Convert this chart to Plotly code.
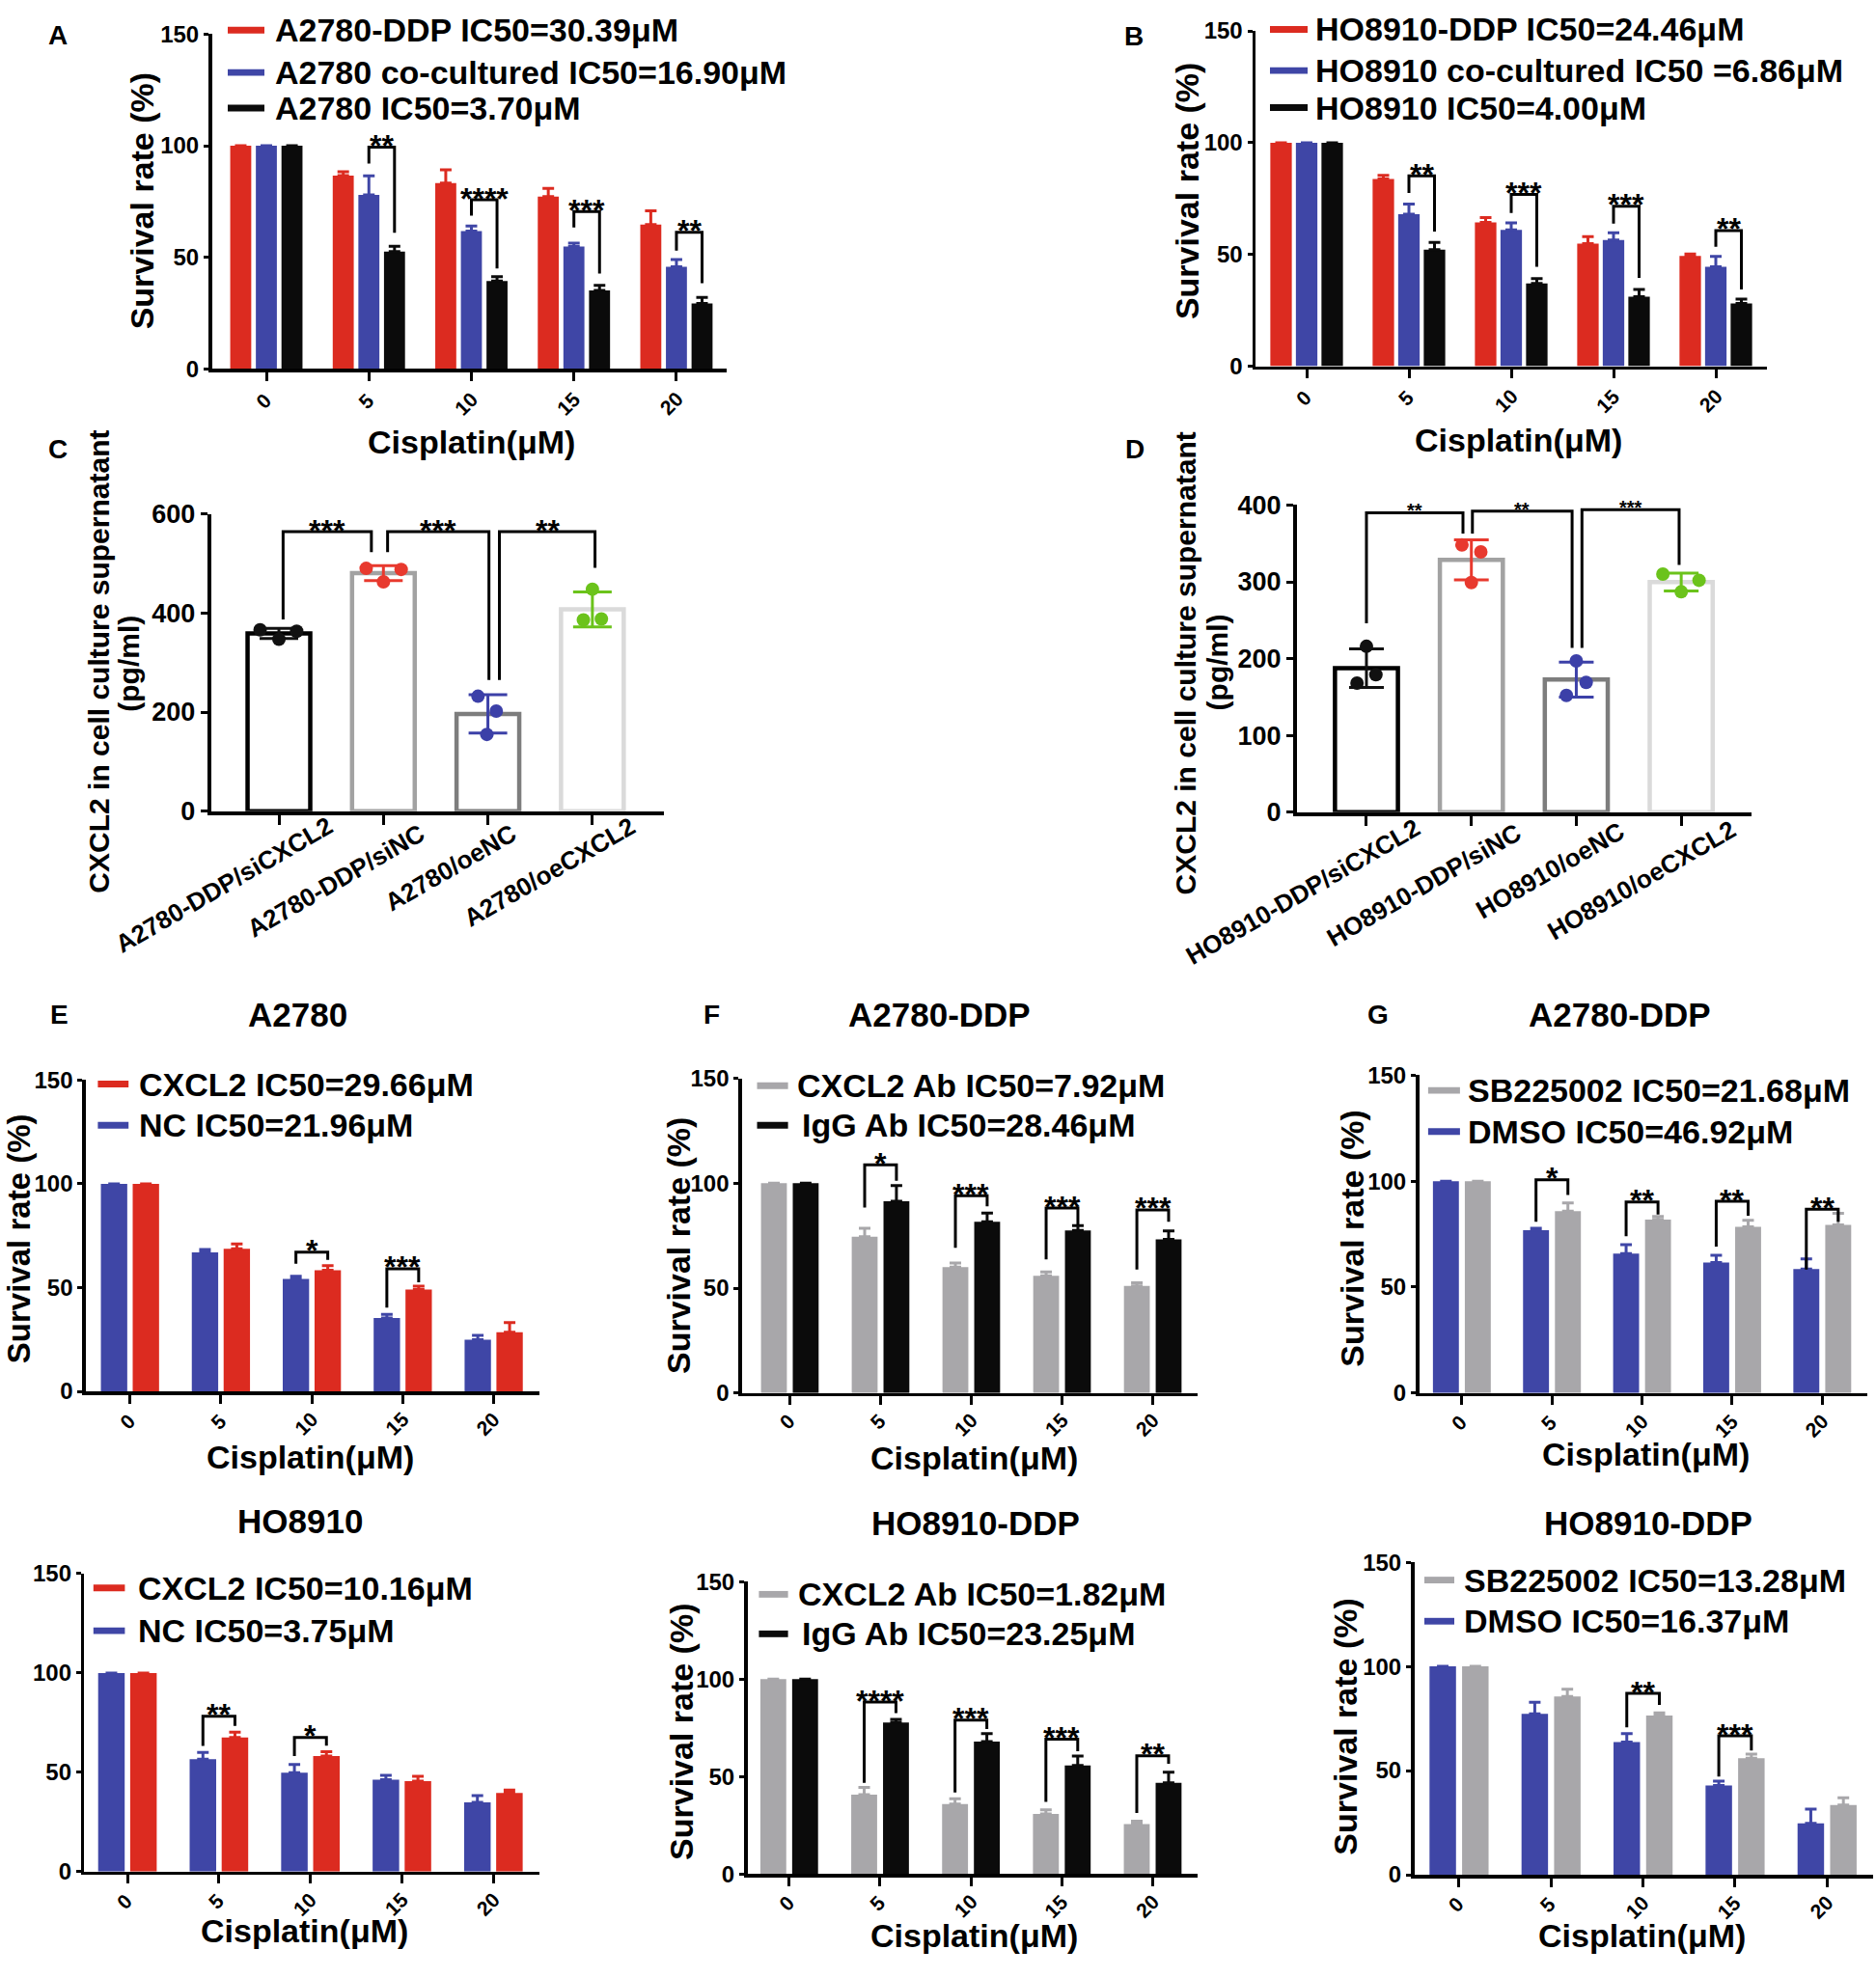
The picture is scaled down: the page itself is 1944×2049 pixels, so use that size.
import numpy as np
import plotly.graph_objects as go

W, H = 1944, 2049
FONT = "Liberation Sans, Arial, Helvetica, sans-serif"

# ======================= DATA =======================
doses = ["0", "5", "10", "15", "20"]

# ---- Panel A : A2780 ----
a_ddp = [100, 86.6, 83.2, 77.2, 64.7]
a_ddp_err = [0, 1.7, 6.0, 3.7, 6.1]
a_co = [100, 78.0, 61.7, 54.8, 45.7]
a_co_err = [0, 8.5, 2.3, 1.5, 3.3]
a_par = [100, 52.5, 39.4, 35.1, 29.3]
a_par_err = [0, 2.4, 1.9, 2.3, 2.7]
a_names = ["A2780-DDP IC50=30.39μM", "A2780 co-cultured IC50=16.90μM", "A2780 IC50=3.70μM"]
a_sig_dose = [1, 2, 3, 4]
a_sig = ["**", "****", "***", "**"]
a_sig_top = [99.4, 75.8, 70.5, 61.2]
a_sig_left = [92.0, 68.7, 63.4, 53.0]
a_sig_right = [61.0, 45.0, 42.7, 38.4]

# ---- Panel B : HO8910 ----
b_ddp = [100, 83.8, 64.4, 54.8, 49.4]
b_ddp_err = [0, 1.6, 2.1, 3.2, 0.8]
b_co = [100, 68.0, 61.0, 56.5, 44.5]
b_co_err = [0, 4.6, 3.1, 3.2, 4.6]
b_par = [100, 52.2, 37.0, 31.1, 28.1]
b_par_err = [0, 3.2, 2.2, 3.3, 1.9]
b_names = ["HO8910-DDP IC50=24.46μM", "HO8910 co-cultured IC50 =6.86μM", "HO8910 IC50=4.00μM"]
b_sig_dose = [1, 2, 3, 4]
b_sig = ["**", "***", "***", "**"]
b_sig_top = [85.2, 76.9, 71.6, 60.7]
b_sig_left = [77.5, 68.6, 63.8, 53.4]
b_sig_right = [60.3, 44.5, 39.5, 34.4]

# ---- Panel C : CXCL2 ELISA (A2780) ----
c_groups = ["A2780-DDP/siCXCL2", "A2780-DDP/siNC", "A2780/oeNC", "A2780/oeCXCL2"]
c_siCXCL2 = [366, 347, 363]
c_siNC = [490, 463, 488]
c_oeNC = [232, 202, 155]
c_oeCXCL2 = [448, 386, 388]
c_sig = ["***", "***", "**"]
c_sig_top = [564, 564, 564]
c_sig_left = [387, 523, 265]
c_sig_right = [523, 265, 491]

# ---- Panel D : CXCL2 ELISA (HO8910) ----
d_groups = ["HO8910-DDP/siCXCL2", "HO8910-DDP/siNC", "HO8910/oeNC", "HO8910/oeCXCL2"]
d_siCXCL2 = [216, 179, 168]
d_siNC = [348, 339, 299]
d_oeNC = [197, 169, 152]
d_oeCXCL2 = [310, 302, 287]
d_sig = ["**", "**", "***"]
d_sig_top = [390, 392, 394]
d_sig_left = [246, 363, 214]
d_sig_right = [363, 214, 322]

# ---- Panel E (top) : A2780 ----
e1_nc = [100, 67.0, 54.2, 35.4, 24.9]
e1_nc_err = [0, 1.3, 1.2, 1.7, 2.1]
e1_cxcl2 = [100, 68.7, 58.4, 49.1, 28.5]
e1_cxcl2_err = [0, 2.3, 2.2, 1.6, 4.6]
e1_names = ["CXCL2 IC50=29.66μM", "NC IC50=21.96μM"]
e1_sig_dose = [2, 3]
e1_sig = ["*", "***"]
e1_sig_top = [67.1, 59.1]
e1_sig_left = [61.5, 40.4]
e1_sig_right = [63.3, 52.6]

# ---- Panel E (bottom) : HO8910 ----
e2_nc = [100, 56.6, 49.8, 46.3, 34.8]
e2_nc_err = [0, 3.4, 4.1, 2.2, 3.5]
e2_cxcl2 = [100, 67.5, 58.2, 45.5, 39.6]
e2_cxcl2_err = [0, 2.7, 2.1, 2.4, 1.4]
e2_names = ["CXCL2 IC50=10.16μM", "NC IC50=3.75μM"]
e2_sig_dose = [1, 2]
e2_sig = ["**", "*"]
e2_sig_top = [78.2, 67.5]
e2_sig_left = [63.3, 58.2]
e2_sig_right = [73.4, 63.4]

# ---- Panel F (top) : A2780-DDP ----
f1_ab = [100, 74.5, 60.0, 55.9, 51.1]
f1_ab_err = [0, 4.0, 2.0, 1.8, 1.5]
f1_igg = [100, 91.4, 81.6, 77.5, 73.3]
f1_igg_err = [0, 7.5, 4.2, 2.3, 4.0]
f1_names = ["CXCL2 Ab IC50=7.92μM", "IgG Ab IC50=28.46μM"]
f1_sig_dose = [1, 2, 3, 4]
f1_sig = ["*", "***", "***", "***"]
f1_sig_top = [108.8, 94.1, 88.2, 87.3]
f1_sig_left = [88.4, 69.2, 63.7, 58.9]
f1_sig_right = [101.2, 89.0, 80.0, 81.6]

# ---- Panel F (bottom) : HO8910-DDP ----
f2_ab = [100, 40.8, 35.9, 30.9, 25.7]
f2_ab_err = [0, 3.6, 2.8, 2.1, 1.4]
f2_igg = [100, 77.7, 67.9, 55.7, 46.8]
f2_igg_err = [0, 1.6, 4.1, 4.8, 5.4]
f2_names = ["CXCL2 Ab IC50=1.82μM", "IgG Ab IC50=23.25μM"]
f2_sig_dose = [1, 2, 3, 4]
f2_sig = ["****", "***", "***", "**"]
f2_sig_top = [88.2, 79.0, 69.2, 60.6]
f2_sig_left = [46.8, 41.9, 37.0, 31.4]
f2_sig_right = [82.6, 74.4, 63.0, 56.6]

# ---- Panel G (top) : A2780-DDP ----
g1_dmso = [100, 76.9, 65.8, 61.6, 58.5]
g1_dmso_err = [0, 0.9, 4.2, 3.4, 4.8]
g1_sb = [100, 85.8, 81.9, 78.5, 79.3]
g1_sb_err = [0, 3.9, 1.4, 3.0, 5.5]
g1_names = ["SB225002 IC50=21.68μM", "DMSO IC50=46.92μM"]
g1_sig_dose = [1, 2, 3, 4]
g1_sig = ["*", "**", "**", "**"]
g1_sig_top = [100.6, 90.2, 90.5, 86.7]
g1_sig_left = [80.8, 74.0, 69.1, 58.3]
g1_sig_right = [93.5, 84.2, 83.7, 80.8]

# ---- Panel G (bottom) : HO8910-DDP ----
g2_dmso = [100, 77.2, 63.7, 42.9, 24.7]
g2_dmso_err = [0, 5.6, 4.1, 2.0, 6.8]
g2_sb = [100, 85.6, 76.4, 55.9, 33.5]
g2_sb_err = [0, 3.5, 1.3, 2.0, 3.4]
g2_names = ["SB225002 IC50=13.28μM", "DMSO IC50=16.37μM"]
g2_sig_dose = [2, 3]
g2_sig = ["**", "***"]
g2_sig_top = [87.1, 66.7]
g2_sig_left = [70.8, 47.2]
g2_sig_right = [81.5, 59.7]

# ======================= STYLE =======================
RED = "#dc2b20"
BLUE = "#3f46a6"
BLACK = "#0b0b0b"
GRAY = "#a8a7aa"
CD_LINE = ["#000000", "#a2a2a2", "#7d7d7d", "#dadada"]
CD_DOT = ["#111111", "#e8392e", "#3c40a8", "#6bc31b"]

fig = go.Figure()
annotations = []
shapes = []
n_axes = [0]


def font(size):
    return dict(family=FONT, size=size, color="black", weight="bold")


def new_axes(box, xr, yr, yticks, ytickfont, lw, xticklen, yticklen, xtickvals):
    n_axes[0] += 1
    k = n_axes[0]
    sx = "" if k == 1 else str(k)
    x0, x1, ytop, ybot = box
    common = dict(showline=True, linecolor="black", linewidth=lw, showgrid=False,
                  zeroline=False, ticks="outside", tickcolor="black", tickwidth=3,
                  fixedrange=True)
    fig.update_layout(**{
        "xaxis" + sx: dict(domain=[x0 / W, x1 / W], anchor="y" + sx, range=xr,
                           tickmode="array", tickvals=xtickvals, ticklen=xticklen,
                           showticklabels=False, **common),
        "yaxis" + sx: dict(domain=[1 - ybot / H, 1 - ytop / H], anchor="x" + sx, range=yr,
                           tickmode="array", tickvals=yticks, ticklen=yticklen,
                           tickfont=font(ytickfont), **common),
    })
    return "x" + sx, "y" + sx


def text(x, y, s, size, angle=0, xanchor="center", yanchor="middle",
         xref="paper", yref="paper", yshift=0, xshift=0):
    if xref == "paper":
        x = x / W
    if yref == "paper":
        y = 1 - y / H
    annotations.append(dict(x=x, y=y, xref=xref, yref=yref, text=s, showarrow=False,
                            textangle=angle, xanchor=xanchor, yanchor=yanchor,
                            yshift=yshift, xshift=xshift, font=font(size)))


def bracket(xa, ya, xl, xr_, top, yl, yr_, label, size):
    shapes.append(dict(type="path", xref=xa, yref=ya,
                       path=f"M {xl},{yl} L {xl},{top} L {xr_},{top} L {xr_},{yr_}",
                       line=dict(color="black", width=3)))
    text((xl + xr_) / 2, top, label, size, xref=xa, yref=ya, yanchor="bottom",
         yshift=-0.642 * size + 2)


def legend(names, colors, sw, tx, rows, size=34, thick=7):
    for name, c, t, r in zip(names, colors, tx, rows):
        shapes.append(dict(type="rect", xref="paper", yref="paper",
                           x0=sw[0] / W, x1=sw[1] / W,
                           y0=1 - (r + thick / 2) / H, y1=1 - (r - thick / 2) / H,
                           fillcolor=c, line=dict(width=0)))
        text(t, r, name, size, xanchor="left")


def dose_labels(xa, ya, size, base):
    # rotated (-45 deg) dose tick labels hanging below each tick
    for i, d in enumerate(doses):
        L = len(d) * 0.556 * size
        text(i, 0, d, size, angle=-45, xref=xa, yref=ya,
             xshift=-0.25 * L, yshift=-(base + 0.25 * L))


def survival(box, xr, series, errors, colors, offsets, bw, sig_dose, sig, top, left, right,
             pair, tick_size, tick_base):
    xa, ya = new_axes(box, xr, [0, 150], [0, 50, 100, 150], 24, 3.5, 9, 5,
                      list(range(len(doses))))
    for vals, errs, c, off in zip(series, errors, colors, offsets):
        fig.add_trace(go.Bar(
            x=[i + off for i in range(len(vals))], y=vals, width=bw,
            marker=dict(color=c, line=dict(width=0)),
            error_y=dict(type="data", array=errs, arrayminus=[0] * len(errs),
                         symmetric=False, color=c, thickness=3, width=6),
            xaxis=xa, yaxis=ya, showlegend=False, hoverinfo="skip"))
    for k, lab, t, l, r in zip(sig_dose, sig, top, left, right):
        bracket(xa, ya, k + offsets[pair[0]], k + offsets[pair[1]], t, l, r, lab, 32)
    dose_labels(xa, ya, tick_size, tick_base)
    return xa, ya


def dot_panel(box, xr, yr, yticks, groups, pts_list, jitters, bw, capw,
              sig, top, left, right, leg_off, star_size, label_pos):
    xa, ya = new_axes(box, xr, yr, yticks, 27, 4, 10, 7, list(range(len(groups))))
    for i, pts in enumerate(pts_list):
        arr = np.array(pts, dtype=float)
        fig.add_trace(go.Bar(
            x=[i], y=[arr.mean()], width=bw,
            marker=dict(color="white", line=dict(color=CD_LINE[i], width=4.5)),
            error_y=dict(type="data", array=[arr.std(ddof=1)], color=CD_DOT[i],
                         thickness=3, width=capw),
            xaxis=xa, yaxis=ya, showlegend=False, hoverinfo="skip"))
        fig.add_trace(go.Scatter(
            x=[i + j for j in jitters[i]], y=pts, mode="markers",
            marker=dict(size=14, color=CD_DOT[i], line=dict(width=0)),
            xaxis=xa, yaxis=ya, showlegend=False, hoverinfo="skip", cliponaxis=False))
    for k, (lab, t, l, r) in enumerate(zip(sig, top, left, right)):
        dl, dr = leg_off[k]
        bracket(xa, ya, k + dl, k + 1 + dr, t, l, r, lab, star_size)
    for g, (cx, cy) in zip(groups, label_pos):
        text(cx, cy, g, 26, angle=-30)
    return xa, ya


# ======================= PANELS =======================
# A
survival((219.5, 753, 20.7, 372.7), [-0.532, 4.49],
         [a_ddp, a_co, a_par], [a_ddp_err, a_co_err, a_par_err],
         [RED, BLUE, BLACK], [-0.25, 0.0, 0.25], 0.205,
         a_sig_dose, a_sig, a_sig_top, a_sig_left, a_sig_right, (1, 2), 21, 30)
legend(a_names, [RED, BLUE, BLACK], (236, 274), [283, 283, 283], [16.5, 61, 98.5])

# B
survival((1301, 1831, 17.3, 370), [-0.5, 4.5],
         [b_ddp, b_co, b_par], [b_ddp_err, b_co_err, b_par_err],
         [RED, BLUE, BLACK], [-0.25, 0.0, 0.25], 0.21,
         b_sig_dose, b_sig, b_sig_top, b_sig_left, b_sig_right, (1, 2), 21, 30)
legend(b_names, [RED, BLUE, BLACK], (1316, 1355), [1361, 1361, 1361], [15.7, 59, 98])

# C
dot_panel((218.75, 687.5, 525.3, 838), [-0.649, 3.68], [0, 600], [0, 200, 400, 600],
          c_groups, [c_siCXCL2, c_siNC, c_oeNC, c_oeCXCL2],
          [[-0.18, 0, 0.17], [-0.165, 0, 0.17], [-0.095, 0.08, -0.01], [0, -0.086, 0.086]],
          0.6, 20, c_sig, c_sig_top, c_sig_left, c_sig_right,
          [(0.04, -0.115), (0.04, 0.01), (0.11, 0.025)], 32,
          [(232, 915.5), (348, 911.8), (467.4, 897.3), (569, 902.7)])

# D
dot_panel((1344, 1815, 516, 839), [-0.662, 3.67], [0, 400], [0, 100, 200, 300, 400],
          d_groups, [d_siCXCL2, d_siNC, d_oeNC, d_oeCXCL2],
          [[0, 0.09, -0.09], [-0.09, 0.09, 0], [0, 0.094, -0.094], [-0.175, 0.17, 0]],
          0.6, 18, d_sig, d_sig_top, d_sig_left, d_sig_right,
          [(0.0, -0.08), (0.01, -0.04), (0.054, -0.02)], 20,
          [(1350.6, 922.7), (1475.8, 915.5), (1606.4, 899.8), (1701.4, 910)])

# E top / bottom
survival((88.8, 558.7, 1120.7, 1448.3), [-0.487, 4.5],
         [e1_nc, e1_cxcl2], [e1_nc_err, e1_cxcl2_err], [BLUE, RED], [-0.175, 0.175], 0.29,
         e1_sig_dose, e1_sig, e1_sig_top, e1_sig_left, e1_sig_right, (0, 1), 21, 28)
legend(e1_names, [RED, BLUE], (101.4, 133.2), [141.6, 141.6], [1125, 1168.3])

survival((87.3, 558.7, 1640, 1953.3), [-0.472, 4.5],
         [e2_nc, e2_cxcl2], [e2_nc_err, e2_cxcl2_err], [BLUE, RED], [-0.175, 0.175], 0.29,
         e2_sig_dose, e2_sig, e2_sig_top, e2_sig_left, e2_sig_right, (0, 1), 21, 28)
legend(e2_names, [RED, BLUE], (96.8, 129.4), [140.8, 140.8], [1655, 1700])

# F top / bottom
survival((768.8, 1240.6, 1119, 1450), [-0.528, 4.49],
         [f1_ab, f1_igg], [f1_ab_err, f1_igg_err], [GRAY, BLACK], [-0.175, 0.175], 0.285,
         f1_sig_dose, f1_sig, f1_sig_top, f1_sig_left, f1_sig_right, (0, 1), 21, 27)
legend(f1_names, [GRAY, BLACK], (784.5, 816.6), [823.5, 829], [1126.7, 1168.3])

survival((774.5, 1240.6, 1648.3, 1956), [-0.46, 4.49],
         [f2_ab, f2_igg], [f2_ab_err, f2_igg_err], [GRAY, BLACK], [-0.175, 0.175], 0.285,
         f2_sig_dose, f2_sig, f2_sig_top, f2_sig_left, f2_sig_right, (0, 1), 21, 27)
legend(f2_names, [GRAY, BLACK], (786.4, 816.6), [824.7, 829], [1661.7, 1703.3])

# G top / bottom
survival((1470.5, 1935, 1115.7, 1450), [-0.475, 4.5],
         [g1_dmso, g1_sb], [g1_dmso_err, g1_sb_err], [BLUE, GRAY], [-0.177, 0.177], 0.288,
         g1_sig_dose, g1_sig, g1_sig_top, g1_sig_left, g1_sig_right, (0, 1), 21, 28)
legend(g1_names, [GRAY, BLUE], (1479.9, 1512.9), [1519.3, 1519.3], [1131.7, 1175])

survival((1465.5, 1941, 1628, 1956.7), [-0.487, 4.5],
         [g2_dmso, g2_sb], [g2_dmso_err, g2_sb_err], [BLUE, GRAY], [-0.177, 0.177], 0.288,
         g2_sig_dose, g2_sig, g2_sig_top, g2_sig_left, g2_sig_right, (0, 1), 21, 28)
legend(g2_names, [GRAY, BLUE], (1476, 1507), [1514.8, 1514.8], [1646.7, 1690])

# ======================= TEXT =======================
for lab, (x, y) in zip("ABCDEFG", [(59.6, 21.7), (1174.6, 23.3), (60.3, 457), (1176, 457),
                                   (61.2, 1051.7), (737.4, 1051.7), (1427.7, 1051.7)]):
    text(x, y, lab, 28)

for (x, y) in [(488, 450), (1573, 448), (321.5, 1517), (1009.5, 1518), (1705, 1514),
               (315.7, 2016), (1009.7, 2021), (1701.3, 2021)]:
    text(x, y, "Cisplatin(μM)", 34)

for s, (x, y) in [("A2780", (308, 1051.7)), ("A2780-DDP", (973.7, 1051.7)),
                  ("A2780-DDP", (1678.6, 1051.7)), ("HO8910", (311, 1585)),
                  ("HO8910-DDP", (1011, 1586.7)), ("HO8910-DDP", (1708, 1586.7))]:
    text(x, y, s, 35)

for (x, y, s) in [(147.4, 195.8, 34), (1230, 185.8, 34), (19, 1288, 33), (703, 1295, 34),
                  (1401, 1287.5, 34), (706.7, 1806.7, 34), (1394.2, 1800.8, 34)]:
    text(x, y, "Survival rate (%)", s, angle=-90)

for (x1, y1, x2, y2) in [(101.6, 681, 134, 682.7), (1228.7, 682.7, 1261.6, 681.8)]:
    text(x1, y1, "CXCL2 in cell culture supernatant", 30, angle=-90)
    text(x2, y2, "(pg/ml)", 30, angle=-90)

fig.update_layout(
    width=W, height=H, autosize=False,
    margin=dict(l=0, r=0, t=0, b=0, pad=0),
    paper_bgcolor="white", plot_bgcolor="white",
    barmode="overlay", showlegend=False,
    annotations=annotations, shapes=shapes,
    font=dict(family=FONT, color="black"),
)

fig.write_html("out.html", config={"displayModeBar": False, "staticPlot": True},
               post_script="document.body.style.margin='0';")
